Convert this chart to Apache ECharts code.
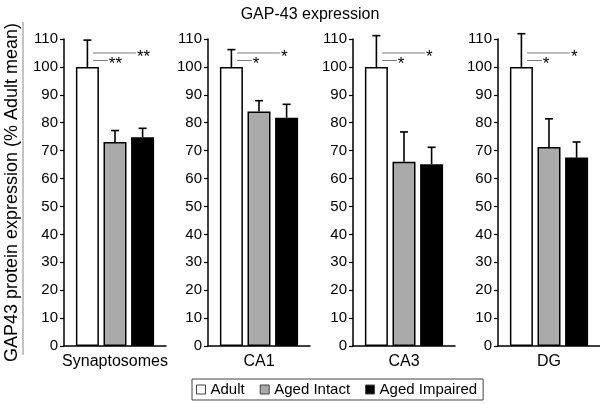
<!DOCTYPE html>
<html>
<head>
<meta charset="utf-8">
<script src="https://cdn.jsdelivr.net/npm/echarts@6/dist/echarts.min.js"></script>
<style>html,body{margin:0;padding:0;background:#fff}#c{width:600px;height:404px}</style>
</head>
<body>
<div id="c"></div>
<script>
// ---- data ----
const categories = ['Synaptosomes', 'CA1', 'CA3', 'DG'];
const seriesNames = ['Adult', 'Aged Intact', 'Aged Impaired'];
const adult = [100, 100, 100, 100];
const adultSem = [9.6, 6.2, 11.2, 11.9];
const agedIntact = [73.1, 84.0, 66.0, 71.3];
const agedIntactSem = [4.1, 3.9, 10.7, 10.1];
const agedImpaired = [74.8, 81.8, 65.1, 67.5];
const agedImpairedSem = [3.2, 4.8, 6.1, 5.6];
const sigUpperStars = ['**', '*', '*', '*'];   // Adult vs Aged Impaired
const sigLowerStars = ['**', '*', '*', '*'];   // Adult vs Aged Intact
const sigLevels = [105, 102.3];
const yTicks = [0, 10, 20, 30, 40, 50, 60, 70, 80, 90, 100, 110];

// ---- styles ----
const FONT = 'Arial, "Liberation Sans", sans-serif';
const colors = ['#ffffff', '#aaaaaa', '#000000'];
const gridLefts = [64, 208, 353, 498];
const gridWidth = 102;
const barWidth = 23;
const gapRatio = 0.2;
const step = barWidth * (1 + gapRatio);

const values = [adult, agedIntact, agedImpaired];
const sems = [adultSem, agedIntactSem, agedImpairedSem];

const grids = [], xAxes = [], yAxes = [], series = [];
categories.forEach((cat, k) => {
  grids.push({left: gridLefts[k], width: gridWidth, top: 39, height: 307});
  xAxes.push({
    type: 'category', gridIndex: k, data: [cat],
    axisLine: {lineStyle: {color: '#000', width: 1.5}},
    axisTick: {show: false},
    axisLabel: {color: '#000', fontSize: 16, fontFamily: FONT, margin: 8}
  });
  xAxes.push({type: 'value', gridIndex: k, min: 0, max: 1, show: false});
  yAxes.push({
    type: 'value', gridIndex: k, min: yTicks[0], max: yTicks[yTicks.length - 1], interval: 10,
    splitLine: {show: false},
    axisLine: {show: true, lineStyle: {color: '#000', width: 1.5}},
    axisTick: {show: true, length: 4, lineStyle: {color: '#000', width: 1.2}},
    axisLabel: {color: '#000', fontSize: 15, fontFamily: FONT, margin: 6},
    name: k === 0 ? 'GAP43 protein expression (% Adult mean)' : '',
    nameLocation: 'middle', nameRotate: 90, nameGap: 43,
    nameTextStyle: {color: '#000', fontSize: 18, fontFamily: FONT}
  });
  seriesNames.forEach((nm, i) => {
    series.push({
      type: 'bar', name: nm, xAxisIndex: 2 * k, yAxisIndex: k,
      data: [values[i][k]], barWidth: barWidth, barGap: (gapRatio * 100) + '%',
      itemStyle: {color: colors[i], borderColor: '#000', borderWidth: 1.5},
      emphasis: {disabled: true}, animation: false
    });
  });
  // error bars (upper only)
  series.push({
    type: 'custom', xAxisIndex: 2 * k, yAxisIndex: k, z: 5, animation: false,
    data: seriesNames.map((nm, i) => [0, values[i][k], values[i][k] + sems[i][k], i]),
    encode: {x: 0, y: [1, 2]},
    renderItem: (params, api) => {
      const b = api.coord([api.value(0), api.value(1)]);
      const t = api.coord([api.value(0), api.value(2)]);
      const x = b[0] + (api.value(3) - 1) * step;
      const st = {stroke: '#000', lineWidth: 1.6};
      return {type: 'group', children: [
        {type: 'line', shape: {x1: x, y1: b[1], x2: x, y2: t[1]}, style: st},
        {type: 'line', shape: {x1: x - 4, y1: t[1], x2: x + 4, y2: t[1]}, style: st}
      ]};
    }
  });
  // significance lines
  [[0.285, 0.705, sigLevels[0], sigUpperStars[k]], [0.285, 0.43, sigLevels[1], sigLowerStars[k]]].forEach(s => {
    series.push({
      type: 'line', xAxisIndex: 2 * k + 1, yAxisIndex: k, symbol: 'none', silent: true, animation: false,
      data: [[s[0], s[2]], [s[1], s[2]]],
      lineStyle: {color: '#777', width: 1},
      endLabel: {show: true, formatter: s[3], color: '#000', fontSize: 17, fontFamily: FONT, distance: 1, offset: [0, 4]}
    });
  });
});

const chart = echarts.init(document.getElementById('c'), null, {renderer: 'canvas'});
chart.setOption({
  animation: false,
  backgroundColor: '#fff',
  title: {text: 'GAP-43 expression', left: 305, top: 2, textAlign: 'center',
    textStyle: {fontSize: 16, fontWeight: 'normal', color: '#000', fontFamily: FONT}},
  legend: {
    data: seriesNames, left: 192, top: 379, orient: 'horizontal',
    padding: [3, 6, 3, 4], borderColor: '#444', borderWidth: 1,
    itemWidth: 9, itemHeight: 9, itemGap: 15, icon: 'rect',
    itemStyle: {borderWidth: 1, borderColor: '#444'},
    textStyle: {fontSize: 15, color: '#000', fontFamily: FONT}
  },
  grid: grids, xAxis: xAxes, yAxis: yAxes, series: series,
  graphic: [{type: 'line', shape: {x1: 23, y1: 22, x2: 23, y2: 355}, style: {stroke: '#888', lineWidth: 1}}]
});
</script>
</body>
</html>
